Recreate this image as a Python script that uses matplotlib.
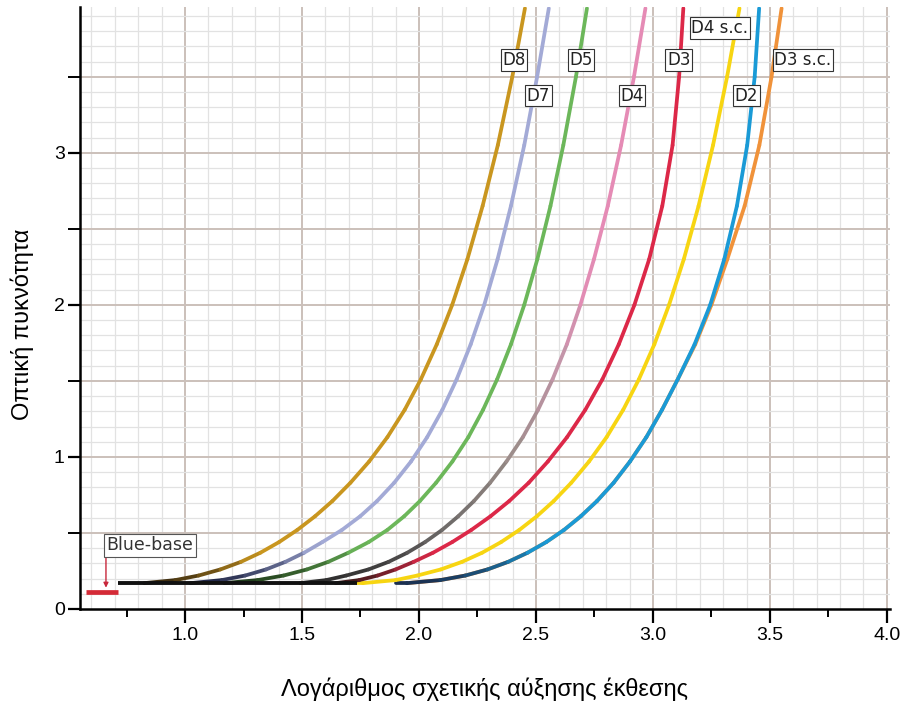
import numpy as np
import matplotlib
matplotlib.use("Agg")
import matplotlib.pyplot as plt
from matplotlib.collections import LineCollection
from matplotlib.colors import to_rgb
from matplotlib.ticker import MultipleLocator, FormatStrFormatter

plt.rcParams['font.family'] = ['Liberation Sans', 'DejaVu Sans']

# optical density levels at which every curve was read
density = [0.17, 0.19, 0.22, 0.26, 0.31, 0.37, 0.44, 0.52, 0.61, 0.71, 0.83,
           0.97, 1.13, 1.31, 1.51, 1.74, 2.0, 2.3, 2.65, 3.05, 3.5, 3.95]

# log relative exposure for each developer at those densities
logE_D8 = [0.825, 0.958, 1.058, 1.151, 1.239, 1.322, 1.402, 1.480, 1.556, 1.630, 1.707,
           1.787, 1.865, 1.939, 2.008, 2.076, 2.142, 2.207, 2.272, 2.337, 2.399, 2.453]
logE_D7 = [1.024, 1.157, 1.257, 1.346, 1.429, 1.509, 1.587, 1.671, 1.749, 1.821, 1.894,
           1.966, 2.035, 2.100, 2.161, 2.221, 2.279, 2.336, 2.393, 2.450, 2.505, 2.555]
logE_D5 = [1.167, 1.310, 1.421, 1.521, 1.612, 1.698, 1.785, 1.865, 1.937, 2.004, 2.073,
           2.143, 2.211, 2.274, 2.334, 2.393, 2.450, 2.506, 2.562, 2.617, 2.671, 2.718]
logE_D4 = [1.492, 1.603, 1.689, 1.784, 1.870, 1.950, 2.026, 2.099, 2.168, 2.235, 2.304,
           2.374, 2.444, 2.509, 2.571, 2.632, 2.690, 2.748, 2.807, 2.864, 2.919, 2.968]
logE_D3 = [1.644, 1.744, 1.823, 1.900, 1.977, 2.060, 2.142, 2.224, 2.306, 2.386, 2.469,
           2.551, 2.633, 2.711, 2.784, 2.854, 2.921, 2.984, 3.040, 3.084, 3.112, 3.130]
logE_D4sc = [1.760, 1.900, 1.993, 2.093, 2.184, 2.270, 2.351, 2.429, 2.504, 2.576, 2.651,
             2.727, 2.802, 2.873, 2.940, 3.006, 3.069, 3.132, 3.195, 3.257, 3.317, 3.370]
logE_D2 = [1.948, 2.091, 2.198, 2.293, 2.381, 2.464, 2.544, 2.620, 2.692, 2.761, 2.832,
           2.902, 2.972, 3.039, 3.106, 3.178, 3.245, 3.305, 3.359, 3.403, 3.435, 3.454]
logE_D3sc = [1.948, 2.091, 2.198, 2.293, 2.381, 2.464, 2.544, 2.620, 2.692, 2.761, 2.832,
             2.902, 2.972, 3.039, 3.106, 3.181, 3.250, 3.318, 3.392, 3.455, 3.507, 3.550]

# flat fog part in front of a curve that does not sit under the common base line
fog_start = {'D4 s.c.': 1.735, 'D2': 1.90}

base_fog = 0.17
base_line = [0.714, 1.735]
blue_base = 0.114
blue_base_span = [0.577, 0.714]

fig = plt.figure(figsize=(9.09, 7.06), dpi=100)
ax = fig.add_axes([0.088, 0.1374, 0.891, 0.853])
ax.set_xlim(0.551, 4.013)
ax.set_ylim(0, 3.96)

# fine grid: 0.1 steps, darker every 0.5
for v in np.arange(0.6, 4.01, 0.1):
    major = abs(v * 2 - round(v * 2)) < 1e-6
    ax.axvline(v, color='#cbc0ba' if major else '#e2e2e2', lw=1.4 if major else 0.9, zorder=0)
for h in np.arange(0.1, 3.96, 0.1):
    major = abs(h * 2 - round(h * 2)) < 1e-6
    ax.axhline(h, color='#cbc0ba' if major else '#e2e2e2', lw=1.4 if major else 0.9, zorder=0)


def draw_curve(x, y, stops, z):
    pts = np.column_stack([x, y])
    segs = np.stack([pts[:-1], pts[1:]], axis=1)
    ymid = (pts[:-1, 1] + pts[1:, 1]) / 2
    lv = [s[0] for s in stops]
    rgb = np.array([to_rgb(s[1]) for s in stops])
    cols = np.column_stack([np.interp(ymid, lv, rgb[:, i]) for i in range(3)])
    lc = LineCollection(segs, colors=cols, linewidths=2.7, capstyle='round',
                        joinstyle='round', zorder=z)
    ax.add_collection(lc)


curves = [
    ('D3 s.c.', logE_D3sc, [(0.17, '#f0923a')], 2),
    ('D2', logE_D2, [(0.17, '#1b2f4f'), (0.42, '#1a9ad6')], 3),
    ('D4 s.c.', logE_D4sc, [(0.17, '#f7d512')], 4),
    ('D3', logE_D3, [(0.17, '#3a1a1a'), (0.36, '#dc2848')], 5),
    ('D4', logE_D4, [(0.17, '#2a2a2a'), (0.5, '#6a6766'), (1.0, '#9a8c88'),
                     (1.6, '#c395a8'), (2.2, '#e58bb5')], 6),
    ('D5', logE_D5, [(0.17, '#1f3a1a'), (0.42, '#6cb75a')], 7),
    ('D7', logE_D7, [(0.17, '#1e2444'), (0.42, '#a3aad6')], 8),
    ('D8', logE_D8, [(0.17, '#3a2a10'), (0.36, '#c9961f')], 9),
]
for name, xs, stops, z in curves:
    xs = list(xs)
    ys = list(density)
    if name in fog_start:
        xs = [fog_start[name]] + xs
        ys = [base_fog] + ys
    draw_curve(xs, ys, stops, z)

# common fog level and the blue-base marker
ax.plot(base_line, [base_fog, base_fog], color='#111111', lw=2.8,
        solid_capstyle='butt', zorder=10)
ax.plot(blue_base_span, [blue_base, blue_base], color='#d42a36', lw=3.4,
        solid_capstyle='butt', zorder=10)
ax.annotate('', xy=(0.662, 0.14), xytext=(0.662, 0.368),
            arrowprops=dict(arrowstyle='-|>', color='#c8283c', lw=1.0, mutation_scale=7,
                            shrinkA=0, shrinkB=0), zorder=11)
ax.text(0.85, 0.418, 'Blue-base', ha='center', va='center', fontsize=12.5,
        family='DejaVu Sans', color='#333333', zorder=12,
        bbox=dict(boxstyle='square,pad=0.14', fc='white', ec='#555555', lw=0.8))

# curve name tags
tag_names = ['D8', 'D5', 'D3', 'D3 s.c.', 'D4 s.c.', 'D7', 'D4', 'D2']
tag_x = [2.406, 2.692, 3.111, 3.641, 3.286, 2.51, 2.91, 3.40]
tag_y = [3.61, 3.61, 3.61, 3.61, 3.82, 3.375, 3.375, 3.375]
for t, tx, ty in zip(tag_names, tag_x, tag_y):
    ax.text(tx, ty, t, ha='center', va='center', fontsize=12, family='DejaVu Sans',
            color='#222222', zorder=12,
            bbox=dict(boxstyle='square,pad=0.1', fc='white', ec='#333333', lw=0.8))

ax.xaxis.set_major_locator(MultipleLocator(0.5))
ax.xaxis.set_minor_locator(MultipleLocator(0.25))
ax.xaxis.set_major_formatter(FormatStrFormatter('%.1f'))
ax.yaxis.set_major_locator(MultipleLocator(1))
ax.yaxis.set_minor_locator(MultipleLocator(0.5))
ax.tick_params(which='major', direction='out', length=10, width=1.6, labelsize=14, pad=3)
ax.tick_params(which='minor', direction='out', length=6, width=1.4)
ax.tick_params(axis='y', which='both', length=9, pad=2)

for s in ['top', 'right']:
    ax.spines[s].set_visible(False)
for s in ['left', 'bottom']:
    ax.spines[s].set_linewidth(1.8)

ax.set_xlabel('Λογάριθμος σχετικής αύξησης έκθεσης', fontsize=17, labelpad=24)
ax.set_ylabel('Οπτική πυκνότητα', fontsize=17)
ax.yaxis.set_label_coords(-0.057, 0.472)

fig.savefig('out.png', dpi=100)
